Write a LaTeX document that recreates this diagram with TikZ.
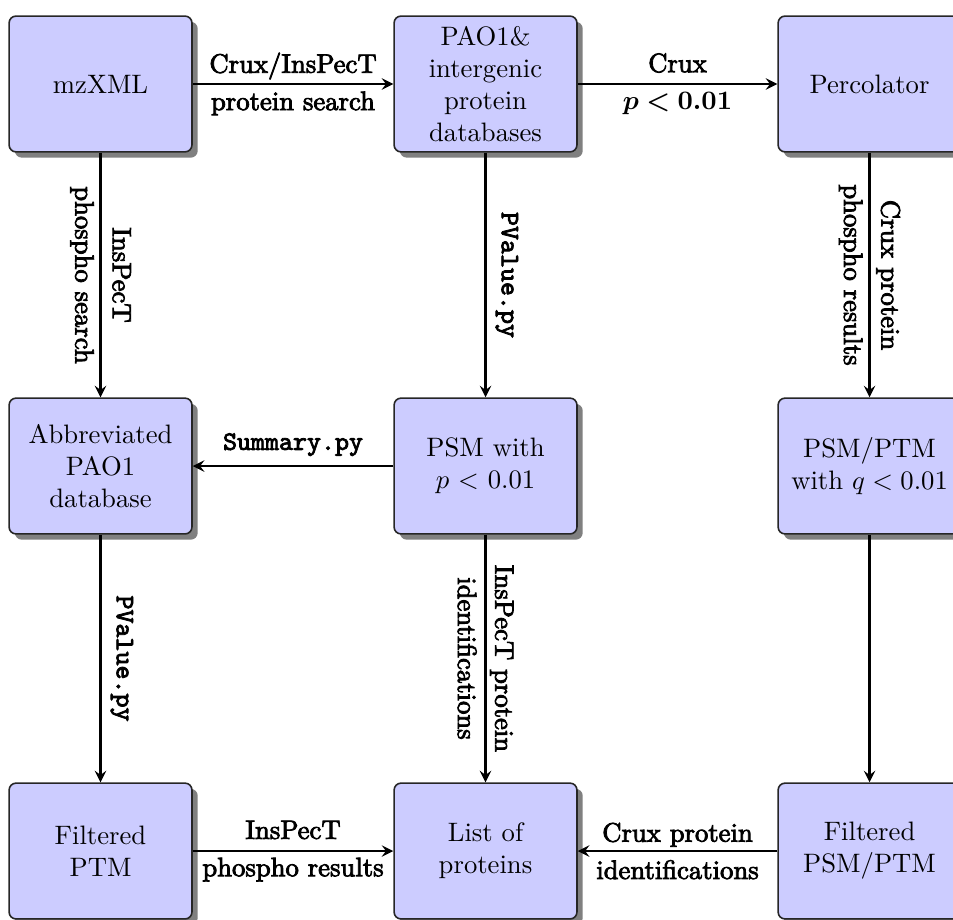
\documentclass[tikz,border=0pt]{standalone}
\usepackage{amsmath}
\usepackage{amssymb}
\usepackage{bm}
\usepackage{fontspec}
\usepackage{tikz}
\usetikzlibrary{shapes}
\usetikzlibrary{arrows}
\usetikzlibrary{shadows}
\usetikzlibrary{positioning}
\newfontfamily\edgefont[Extension=.otf,FakeBold=3]{lmroman10-regular}
\newfontfamily\edgett[Extension=.otf,FakeBold=3]{lmmono10-regular}
\tikzset{
  stage/.style={rectangle, rounded corners=2.6pt, draw=black!85, line width=0.6pt, fill=blue!20,
    minimum width=2.41cm, minimum height=1.79cm, inner sep=1pt, align=center,
    drop shadow={fill=black!50, opacity=1}},
  flow/.style={->, >=stealth, line width=0.9pt},
  lbl/.style={midway, sloped, align=center, font=\edgefont\fontsize{10}{14}\selectfont}
}

\begin{document}
\begin{tikzpicture}[scale=1.0]
  \useasboundingbox (0,0) rectangle (12.56,-12.125);
  \node[stage] (mzxml) at (1.325,-1.107) {mzXML};
  \node[stage] (pao) at (6.399,-1.107) {PAO1\&\\intergenic\\protein\\databases};
  \node[stage] (perc) at (11.46,-1.107) {Percolator};
  \node[stage] (abbr) at (1.325,-6.142) {Abbreviated\\PAO1\\database};
  \node[stage] (psm) at (6.399,-6.142) {PSM with\\$p$ $<$ $0.01$};
  \node[stage] (psmptm) at (11.46,-6.142) {PSM/PTM\\with $q<0.01$};
  \node[stage] (fptm) at (1.325,-11.216) {Filtered\\PTM};
  \node[stage] (list) at (6.399,-11.216) {List of\\proteins};
  \node[stage] (fpsm) at (11.46,-11.216) {Filtered\\PSM/PTM};
  \draw[flow] (mzxml) -- node[lbl] {Crux/InsPecT\\protein search} (pao);
  \draw[flow] (pao) -- node[lbl] {Crux\\$\bm{p<0.01}$} (perc);
  \draw[flow] (mzxml) -- node[lbl] {InsPecT\\phospho search} (abbr);
  \draw[flow] (pao) -- node[lbl, above] {\edgett PValue.py} (psm);
  \draw[flow] (perc) -- node[lbl] {Crux protein\\phospho results} (psmptm);
  \draw[flow] (psm) -- node[lbl, above] {\edgett Summary.py} (abbr);
  \draw[flow] (abbr) -- node[lbl, above] {\edgett PValue.py} (fptm);
  \draw[flow] (psm) -- node[lbl] {InsPecT protein\\identifications} (list);
  \draw[flow] (psmptm) -- (fpsm);
  \draw[flow] (fptm) -- node[lbl] {InsPecT\\phospho results} (list);
  \draw[flow] (fpsm) -- node[lbl] {Crux protein\\identifications} (list);
\end{tikzpicture}
\end{document}
